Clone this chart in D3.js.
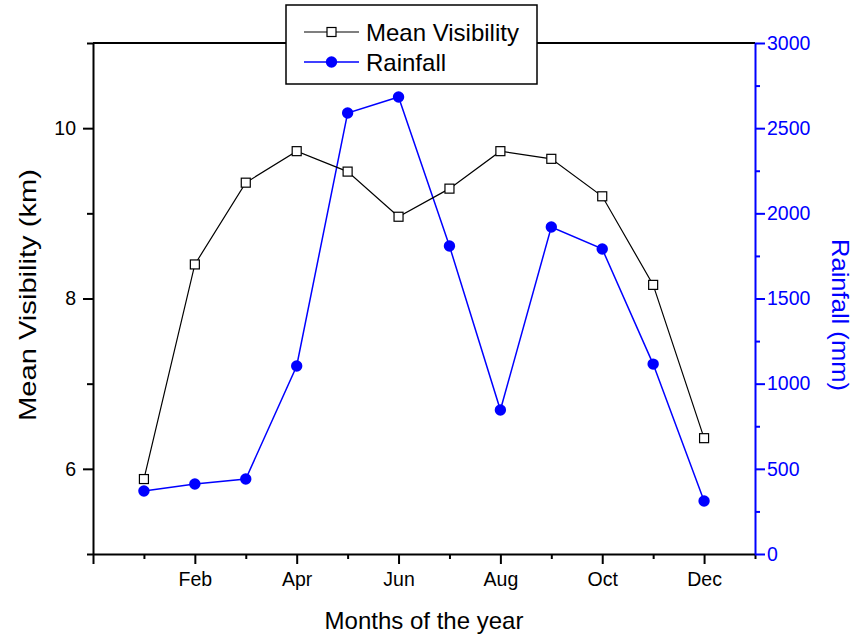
<!DOCTYPE html>
<html><head><meta charset="utf-8">
<script src="https://cdn.jsdelivr.net/npm/d3@7"></script>
<style>body{margin:0;background:#fff}svg{display:block}text{font-family:"Liberation Sans",Arial,sans-serif}</style>
</head><body>
<svg id="c" width="853" height="637"></svg>
<script>
const months = ["Jan","Feb","Mar","Apr","May","Jun","Jul","Aug","Sep","Oct","Nov","Dec"];
const visibility = [5.88, 8.40, 9.36, 9.73, 9.49, 8.96, 9.29, 9.73, 9.64, 9.20, 8.16, 6.36];
const rainfall = [370, 411, 440, 1104, 2589, 2683, 1808, 845, 1920, 1791, 1115, 311];
const leftTicks = [6, 8, 10];
const rightTicks = [0, 500, 1000, 1500, 2000, 2500, 3000];

const svg = d3.select("#c");
const L = 93, R = 755, T = 43, B = 554;
const x = d3.scaleLinear().domain([0, 13]).range([L, R]);
const yL = d3.scaleLinear().domain([5, 11]).range([B, T]);
const yR = d3.scaleLinear().domain([0, 3000]).range([B, T]);
const blue = "#0000ff";
const tickFont = 19.5;

// frame top
svg.append("line").attr("x1", L).attr("x2", R).attr("y1", T).attr("y2", T).attr("stroke", "#000").attr("stroke-width", 2);

// x axis
const gx = svg.append("g").attr("transform", `translate(0,${B})`);
gx.call(d3.axisBottom(x).tickValues(d3.range(0, 14)).tickSize(0).tickFormat(""));
gx.select(".domain").attr("stroke-width", 2);
gx.selectAll(".tick").each(function(d){
  const g = d3.select(this);
  g.select("line").attr("y2", d % 2 === 0 ? 10 : 5).attr("stroke-width", 2);
  if (d >= 2 && d <= 12 && d % 2 === 0) {
    g.select("text").text(months[d - 1]).attr("y", 18).attr("dy", "0.71em").attr("font-size", tickFont).attr("fill", "#000");
  } else g.select("text").remove();
});

// left axis
const gl = svg.append("g").attr("transform", `translate(${L},0)`);
gl.call(d3.axisLeft(yL).tickValues(d3.range(5, 12)).tickSize(0).tickFormat(""));
gl.select(".domain").attr("stroke-width", 2);
gl.selectAll(".tick").each(function(d){
  const g = d3.select(this);
  const major = leftTicks.includes(d);
  g.select("line").attr("x2", major ? -10 : -6).attr("stroke-width", 2);
  if (major) g.select("text").text(d).attr("x", -17).attr("font-size", tickFont).attr("fill", "#000");
  else g.select("text").remove();
});

// right axis
const gr = svg.append("g").attr("transform", `translate(${R},0)`);
gr.call(d3.axisRight(yR).tickValues(d3.range(0, 3001, 250)).tickSize(0).tickFormat(""));
gr.select(".domain").attr("stroke", blue).attr("stroke-width", 2);
gr.selectAll(".tick").each(function(d){
  const g = d3.select(this);
  const major = rightTicks.includes(d);
  g.select("line").attr("x2", major ? 10 : 5).attr("stroke", blue).attr("stroke-width", 2);
  if (major) g.select("text").text(d).attr("x", 12).attr("font-size", tickFont).attr("fill", blue);
  else g.select("text").remove();
});

// axis titles
svg.append("text").attr("x", (L + R) / 2).attr("y", 629).attr("text-anchor", "middle")
  .attr("font-size", 24).text("Months of the year");
svg.append("text").attr("transform", `translate(36,295) rotate(-90)`)
  .attr("text-anchor", "middle").attr("font-size", 24)
  .attr("textLength", 252).attr("lengthAdjust", "spacingAndGlyphs").text("Mean Visibility (km)");
svg.append("text").attr("transform", `translate(832,315) rotate(90)`)
  .attr("text-anchor", "middle").attr("font-size", 24).attr("fill", blue)
  .attr("textLength", 152).attr("lengthAdjust", "spacingAndGlyphs").text("Rainfall (mm)");

// rainfall series
const rainPts = rainfall.map((v, i) => [x(i + 1), yR(v)]);
svg.append("path").attr("d", d3.line()(rainPts)).attr("fill", "none").attr("stroke", blue).attr("stroke-width", 1.5);
svg.selectAll("circle.r").data(rainfall).enter().append("circle")
  .attr("cx", (d, i) => x(i + 1)).attr("cy", d => yR(d)).attr("r", 5.7).attr("fill", blue);

// visibility series
const visPts = visibility.map((v, i) => [x(i + 1), yL(v)]);
svg.append("path").attr("d", d3.line()(visPts)).attr("fill", "none").attr("stroke", "#000").attr("stroke-width", 1.2);
svg.selectAll("rect.v").data(visibility).enter().append("rect")
  .attr("x", (d, i) => x(i + 1) - 4.5).attr("y", d => yL(d) - 4.5)
  .attr("width", 9).attr("height", 9).attr("fill", "#fff").attr("stroke", "#000").attr("stroke-width", 1.2);

// legend
const lg = svg.append("g");
lg.append("rect").attr("x", 286).attr("y", 5).attr("width", 251).attr("height", 79)
  .attr("fill", "#fff").attr("stroke", "#000").attr("stroke-width", 1.5);
lg.append("line").attr("x1", 304).attr("x2", 359).attr("y1", 32).attr("y2", 32).attr("stroke", "#000").attr("stroke-width", 1.2);
lg.append("rect").attr("x", 327).attr("y", 27.5).attr("width", 9).attr("height", 9).attr("fill", "#fff").attr("stroke", "#000").attr("stroke-width", 1.2);
lg.append("text").attr("x", 366).attr("y", 41).attr("font-size", 24).text("Mean Visibility");
lg.append("line").attr("x1", 304).attr("x2", 359).attr("y1", 62).attr("y2", 62).attr("stroke", blue).attr("stroke-width", 1.5);
lg.append("circle").attr("cx", 331.5).attr("cy", 62).attr("r", 5.7).attr("fill", blue);
lg.append("text").attr("x", 366).attr("y", 71).attr("font-size", 24).text("Rainfall");
</script>
</body></html>
